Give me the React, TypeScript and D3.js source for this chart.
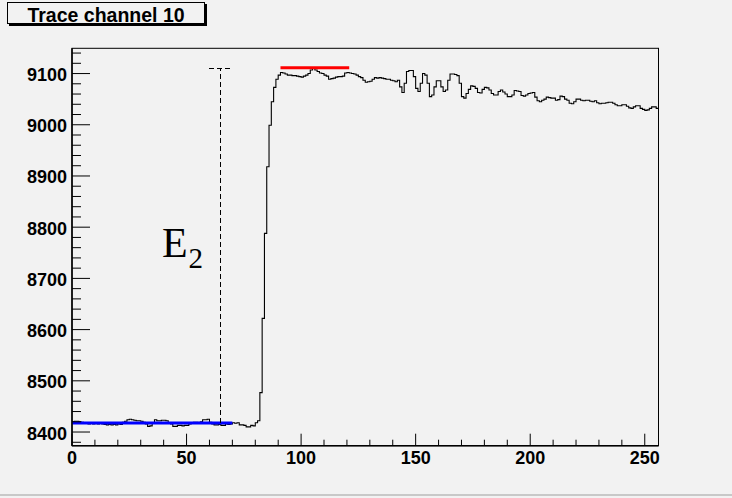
import React from "react";
import * as d3 from "d3";

const title = "Trace channel 10";

// 256 bin contents of the trace histogram
const binValues: number[] = [
  8420, 8421, 8421, 8420, 8419, 8418, 8417, 8416, 8417, 8416,
  8417, 8416, 8417, 8416, 8415, 8414, 8415, 8414, 8415, 8414,
  8416, 8415, 8419, 8421, 8424, 8425, 8424, 8423, 8422, 8422,
  8421, 8419, 8416, 8411, 8412, 8417, 8424, 8422, 8422, 8423,
  8423, 8422, 8418, 8416, 8411, 8411, 8413, 8413, 8412, 8413,
  8413, 8416, 8418, 8419, 8419, 8418, 8420, 8424, 8424, 8425,
  8419, 8416, 8414, 8414, 8415, 8413, 8413, 8416, 8415, 8416,
  8418, 8417, 8418, 8414, 8414, 8413, 8410, 8410, 8413, 8412,
  8418, 8422, 8477, 8622, 8788, 8918, 8999, 9045, 9073, 9089,
  9097, 9102, 9101, 9099, 9097, 9097, 9096, 9096, 9095, 9094,
  9093, 9095, 9097, 9100, 9107, 9110, 9107, 9104, 9101, 9100,
  9097, 9095, 9089, 9090, 9091, 9093, 9094, 9094, 9095, 9101,
  9102, 9101, 9100, 9099, 9097, 9094, 9092, 9087, 9083, 9084,
  9085, 9089, 9092, 9091, 9092, 9091, 9090, 9089, 9089, 9087,
  9086, 9084, 9087, 9074, 9063, 9081, 9104, 9106, 9106, 9094,
  9071, 9065, 9081, 9100, 9097, 9081, 9055, 9058, 9074, 9086,
  9086, 9074, 9065, 9068, 9087, 9099, 9099, 9098, 9096, 9081,
  9055, 9052, 9061, 9069, 9076, 9075, 9071, 9063, 9062, 9069,
  9073, 9072, 9068, 9061, 9058, 9058, 9065, 9068, 9064, 9060,
  9055, 9055, 9058, 9067, 9066, 9065, 9057, 9056, 9058, 9061,
  9062, 9063, 9054, 9047, 9045, 9048, 9050, 9054, 9053, 9052,
  9052, 9048, 9049, 9056, 9055, 9050, 9048, 9042, 9041, 9045,
  9050, 9050, 9048, 9047, 9048, 9048, 9046, 9045, 9047, 9043,
  9041, 9042, 9042, 9043, 9044, 9044, 9042, 9039, 9037, 9037,
  9039, 9039, 9036, 9033, 9032, 9035, 9037, 9037, 9032, 9030,
  9028, 9029, 9032, 9035, 9035, 9032,
];

const xTickValues = [0, 50, 100, 150, 200, 250];
const yTickValues = [8400, 8500, 8600, 8700, 8800, 8900, 9000, 9100];

// baseline fit (blue): [xStart, xEnd, level]
const baselineFit = [0, 70, 8417.5];
// top fit (red): [xStart, xEnd, level]
const topFit = [91, 121, 9111.5];
// E2 marker (dashed): [x, yLow, yHigh, barHalfWidth]
const e2Marker = [64.8, 8417.5, 9109, 5];

const W = 732;
const H = 498;
const BG = "#f2f2f2";
const FONT = "'Liberation Sans', Arial, Helvetica, sans-serif";
const SERIF = "'Liberation Serif', 'Times New Roman', serif";

export default function App() {
  const x = d3.scaleLinear().domain([0, 256]).range([72, 658.5]);
  const y = d3.scaleLinear().domain([8373.3, 9149.3]).range([445.7, 48.3]);

  const pts: [number, number][] = binValues.map((v, i) => [i, v]);
  pts.push([binValues.length, binValues[binValues.length - 1]]);
  const line = d3
    .line<[number, number]>()
    .x((d) => x(d[0]))
    .y((d) => y(d[1]))
    .curve(d3.curveStepAfter);

  const [x0, x1] = x.range();
  const [yb, yt] = y.range();

  const xMinor = d3.range(0, 257, 10).filter((v) => v % 50 !== 0);
  const yMinor = d3.range(8380, 9149, 20).filter((v) => v % 100 !== 0);

  return (
    <div style={{ position: "fixed", left: 0, top: 0 }}>
      <svg width={W} height={H} style={{ display: "block" }}>
        <rect x={0} y={0} width={W} height={H} fill={BG} />
        <line x1={0} x2={W} y1={495} y2={495} stroke="#c8c8c8" strokeWidth={2} />

        {/* frame */}
        <rect x={x0} y={yt} width={x1 - x0} height={yb - yt} fill={BG} stroke="#000" strokeWidth={1} />

        {/* histogram */}
        <path d={line(pts) || ""} fill="none" stroke="#000" strokeWidth={1.1} />

        {/* fits */}
        <line x1={x(baselineFit[0])} x2={x(baselineFit[1])} y1={y(baselineFit[2])} y2={y(baselineFit[2])} stroke="#0000ff" strokeWidth={3} />
        <line x1={x(topFit[0])} x2={x(topFit[1])} y1={y(topFit[2])} y2={y(topFit[2])} stroke="#ff0000" strokeWidth={3} />

        {/* E2 marker */}
        <g stroke="#000" strokeWidth={1} strokeDasharray="5,3" fill="none" shapeRendering="crispEdges">
          <line x1={x(e2Marker[0])} x2={x(e2Marker[0])} y1={y(e2Marker[1])} y2={y(e2Marker[2])} />
          <line x1={x(e2Marker[0] - e2Marker[3])} x2={x(e2Marker[0] + e2Marker[3])} y1={y(e2Marker[2])} y2={y(e2Marker[2])} />
        </g>
        <text x={162} y={257} fontFamily={SERIF} fontSize={42} fill="#000">E</text>
        <text x={188.5} y={268} fontFamily={SERIF} fontSize={29} fill="#000">2</text>

        {/* axes */}
        <line x1={x0} x2={x1} y1={yb} y2={yb} stroke="#000" strokeWidth={1.5} />
        <line x1={x0} x2={x0} y1={yb} y2={yt} stroke="#000" strokeWidth={1.5} />
        {xTickValues.map((v) => (
          <g key={"xt" + v}>
            <line x1={x(v)} x2={x(v)} y1={yb} y2={yb - 12} stroke="#000" strokeWidth={1} />
            <text x={x(v)} y={464} textAnchor="middle" fontFamily={FONT} fontWeight="bold" fontSize={18} fill="#000">{v}</text>
          </g>
        ))}
        {xMinor.map((v) => (
          <line key={"xm" + v} x1={x(v)} x2={x(v)} y1={yb} y2={yb - 6} stroke="#000" strokeWidth={1} />
        ))}
        {yTickValues.map((v) => (
          <g key={"yt" + v}>
            <line x1={x0} x2={x0 + 18} y1={y(v)} y2={y(v)} stroke="#000" strokeWidth={1} />
            <text x={67} y={y(v) + 7.5} textAnchor="end" fontFamily={FONT} fontWeight="bold" fontSize={18} fill="#000">{v}</text>
          </g>
        ))}
        {yMinor.map((v) => (
          <line key={"ym" + v} x1={x0} x2={x0 + 9} y1={y(v)} y2={y(v)} stroke="#000" strokeWidth={1} />
        ))}

        {/* title box */}
        <rect x={9} y={4} width={198} height={22} fill="#000" />
        <rect x={7.5} y={2.5} width={197} height={21} fill={BG} stroke="#000" strokeWidth={1} />
        <text x={106} y={21.5} textAnchor="middle" fontFamily={FONT} fontWeight="bold" fontSize={19.5} fill="#000">{title}</text>
      </svg>
    </div>
  );
}
